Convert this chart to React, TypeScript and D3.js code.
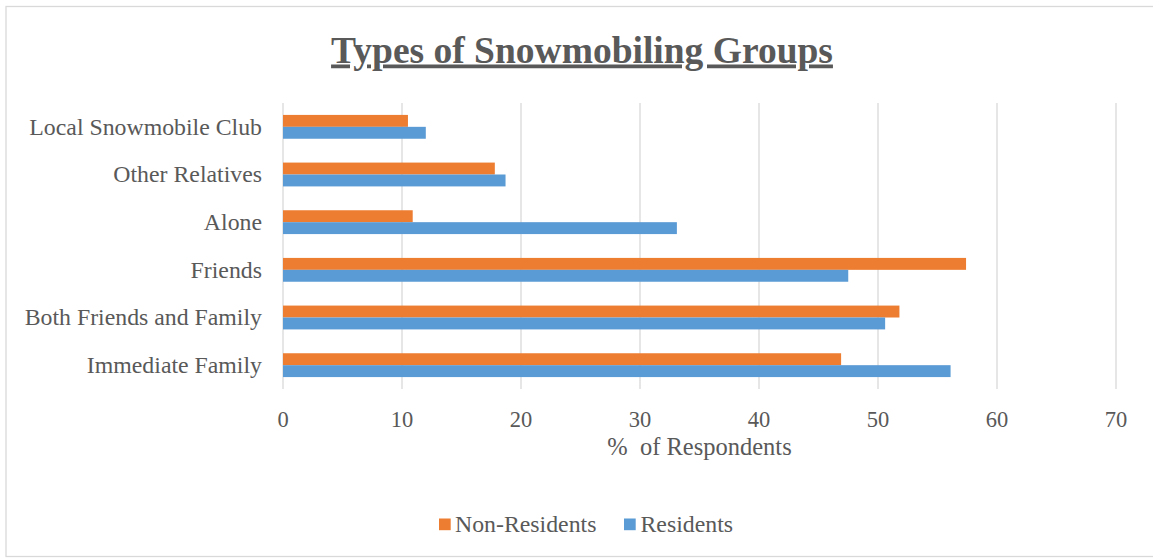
import React from "react";
import * as d3 from "d3";

const categories = [
  "Immediate Family",
  "Both Friends and Family",
  "Friends",
  "Alone",
  "Other Relatives",
  "Local Snowmobile Club",
];
const nonResidents = [46.9, 51.8, 57.4, 10.9, 17.8, 10.5];
const residents = [56.1, 50.6, 47.5, 33.1, 18.7, 12.0];
const seriesNames = ["Non-Residents", "Residents"];
const seriesColors = ["#ED7D31", "#5B9BD5"];
const xTicks = [0, 10, 20, 30, 40, 50, 60, 70];

const W = 1153;
const H = 558;
const FONT = "'Liberation Serif', 'Times New Roman', serif";
const TEXT = "#595959";

export default function App() {
  const left = 283;
  const right = 1116;
  const top = 103;
  const bottom = 389;

  const x = d3.scaleLinear().domain([0, 70]).range([left, right]);
  const y = d3
    .scaleBand<string>()
    .domain([...categories].reverse())
    .range([top, bottom])
    .paddingInner(0.5)
    .paddingOuter(0.25);
  const inner = d3
    .scaleBand<string>()
    .domain(seriesNames)
    .range([0, y.bandwidth()]);

  const values = [nonResidents, residents];

  return (
    <svg
      width={W}
      height={H}
      style={{ position: "absolute", left: 0, top: 0, background: "#fff" }}
      fontFamily={FONT}
    >
      <rect x={6} y={6.5} width={1150} height={550} fill="#fff" stroke="#D9D9D9" strokeWidth={1.3} />
      <text
        x={582}
        y={62.5}
        textAnchor="middle"
        fontSize={37.5}
        fontWeight="bold"
        fill={TEXT}
        textDecoration="underline"
      >
        Types of Snowmobiling Groups
      </text>

      {xTicks.map((t) => (
        <g key={t}>
          <line x1={x(t)} x2={x(t)} y1={top} y2={bottom} stroke="#D9D9D9" strokeWidth={1.3} />
          <text x={x(t)} y={427} textAnchor="middle" fontSize={22.5} fill={TEXT}>
            {t}
          </text>
        </g>
      ))}

      {categories.map((c, i) => (
        <g key={c}>
          {seriesNames.map((s, j) => (
            <rect
              key={s}
              x={x(0)}
              y={(y(c) as number) + (inner(s) as number)}
              width={x(values[j][i]) - x(0)}
              height={inner.bandwidth()}
              fill={seriesColors[j]}
            />
          ))}
          <text
            x={262}
            y={(y(c) as number) + y.bandwidth() / 2 + 7.8}
            textAnchor="end"
            fontSize={23.8}
            fill={TEXT}
          >
            {c}
          </text>
        </g>
      ))}

      <text x={(left + right) / 2} y={455} textAnchor="middle" fontSize={24.5} fill={TEXT} xmlSpace="preserve">
        %  of Respondents
      </text>

      <g>
        <rect x={439} y={518.5} width={11.7} height={11.7} fill={seriesColors[0]} />
        <text x={455} y={531.5} fontSize={23.8} fill={TEXT}>
          {seriesNames[0]}
        </text>
        <rect x={624} y={518.5} width={11.7} height={11.7} fill={seriesColors[1]} />
        <text x={640.5} y={531.5} fontSize={23.8} fill={TEXT}>
          {seriesNames[1]}
        </text>
      </g>
    </svg>
  );
}
